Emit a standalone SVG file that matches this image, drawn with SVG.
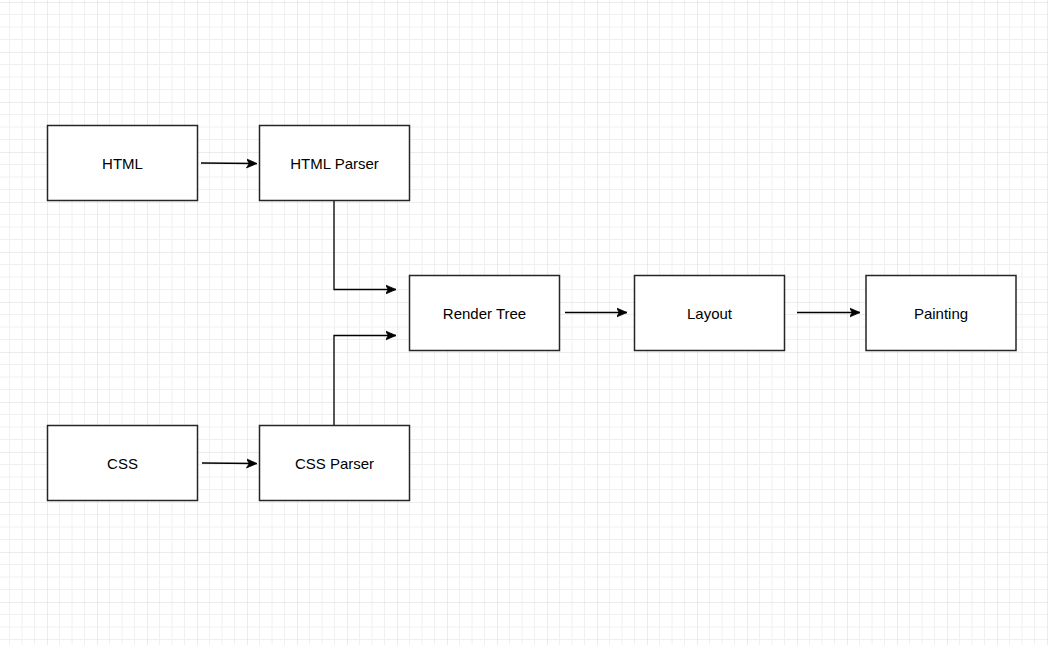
<svg xmlns="http://www.w3.org/2000/svg" width="1048" height="645" viewBox="0 0 1048 645">
  <style>
    .box { fill: #ffffff; stroke: #262626; stroke-width: 1.5; }
    .label { font-family: "Liberation Sans", Arial, Helvetica, sans-serif; font-size: 15px; fill: #000000; text-anchor: middle; dominant-baseline: central; }
    .edge { fill: none; stroke: #000000; stroke-width: 1.3; marker-end: url(#arrow); }
  </style>
  <defs>
    <!-- background grid: fine lines every 12.5px, heavier lines every 50px -->
    <pattern id="grid" patternUnits="userSpaceOnUse" x="-3" y="2" width="50" height="50">
      <path d="M12.5 0V50M25 0V50M37.5 0V50M0 12.5H50M0 25H50M0 37.5H50" stroke="#f0f0f0" stroke-width="1" fill="none"/>
      <path d="M0 0V50M0 0H50" stroke="#d9d9d9" stroke-width="1" fill="none"/>
    </pattern>
    <marker id="arrow" markerUnits="userSpaceOnUse" markerWidth="14" markerHeight="12" refX="10.5" refY="5.5" orient="auto">
      <path d="M0,1 L10.5,5.5 L0,10 L2.8,5.5 Z" fill="#000000" stroke="#000000" stroke-width="0.8" stroke-linejoin="miter"/>
    </marker>
  </defs>

  <rect width="1048" height="645" fill="#ffffff"/>
  <rect width="1048" height="645" fill="url(#grid)"/>

  <g id="connectors">
    <path class="edge" d="M201,163 L257,163.5"/>
    <path class="edge" d="M202,463 L257,463.5"/>
    <path class="edge" d="M334,200.5 V289.5 H396"/>
    <path class="edge" d="M334,425.5 V335.5 H396"/>
    <path class="edge" d="M565,312.5 H627"/>
    <path class="edge" d="M797,312.5 H860"/>
  </g>

  <g id="html">
    <rect class="box" x="47.5" y="125.5" width="150" height="75"/>
    <text class="label" x="122.5" y="163">HTML</text>
  </g>
  <g id="html-parser">
    <rect class="box" x="259.5" y="125.5" width="150" height="75"/>
    <text class="label" x="334.5" y="163">HTML Parser</text>
  </g>
  <g id="css">
    <rect class="box" x="47.5" y="425.5" width="150" height="75"/>
    <text class="label" x="122.5" y="463">CSS</text>
  </g>
  <g id="css-parser">
    <rect class="box" x="259.5" y="425.5" width="150" height="75"/>
    <text class="label" x="334.5" y="463">CSS Parser</text>
  </g>
  <g id="render-tree">
    <rect class="box" x="409.5" y="275.5" width="150" height="75"/>
    <text class="label" x="484.5" y="313">Render Tree</text>
  </g>
  <g id="layout">
    <rect class="box" x="634.5" y="275.5" width="150" height="75"/>
    <text class="label" x="709.5" y="313">Layout</text>
  </g>
  <g id="painting">
    <rect class="box" x="866" y="275.5" width="150" height="75"/>
    <text class="label" x="941" y="313">Painting</text>
  </g>
</svg>
